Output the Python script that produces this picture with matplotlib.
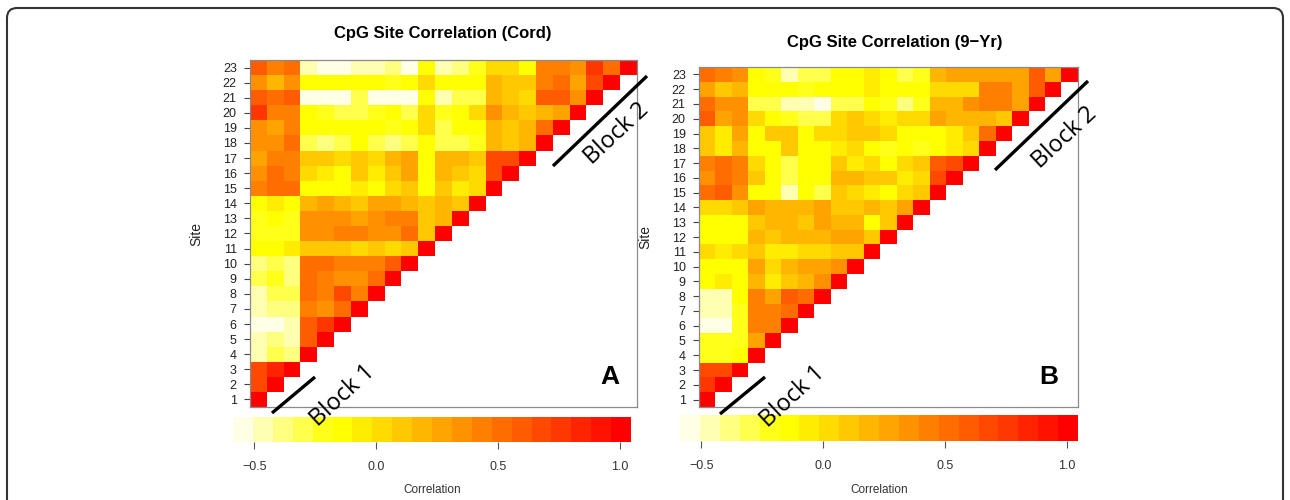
import numpy as np
import matplotlib
matplotlib.use("Agg")
import matplotlib.pyplot as plt
from matplotlib.colors import ListedColormap, BoundaryNorm, hsv_to_rgb
from matplotlib.patches import FancyBboxPatch
from matplotlib.lines import Line2D
from matplotlib.transforms import IdentityTransform
from matplotlib.cm import ScalarMappable

# ---------------- data ----------------
sites = list(range(1, 24))
cbar_ticks = [-0.5, 0.0, 0.5, 1.0]
cbar_ticklabels = ["\u22120.5", "0.0", "0.5", "1.0"]
cbar_range = (-0.587, 1.045)

# lower-triangle correlation rows (site i vs sites 1..i), Cord
cord_rows = [
    [1.00],
    [0.68, 1.00],
    [0.68, 0.84, 1.00],
    [-0.47, -0.30, -0.38, 1.00],
    [-0.47, -0.38, -0.47, 0.60, 1.00],
    [-0.55, -0.55, -0.47, 0.60, 0.76, 1.00],
    [-0.47, -0.38, -0.38, 0.43, 0.35, 0.52, 1.00],
    [-0.47, -0.30, -0.30, 0.52, 0.43, 0.68, 0.43, 1.00],
    [-0.30, -0.22, -0.38, 0.52, 0.43, 0.35, 0.35, 0.52, 1.00],
    [-0.38, -0.30, -0.38, 0.52, 0.52, 0.43, 0.43, 0.43, 0.60, 1.00],
    [-0.14, -0.14, -0.06, 0.11, 0.11, 0.11, 0.03, 0.11, 0.03, 0.11, 1.00],
    [-0.22, -0.22, -0.22, 0.35, 0.35, 0.43, 0.43, 0.35, 0.35, 0.52, 0.11, 1.00],
    [-0.22, -0.14, -0.22, 0.35, 0.35, 0.35, 0.27, 0.35, 0.43, 0.43, 0.11, 0.19, 1.00],
    [-0.14, -0.06, -0.14, 0.19, 0.27, 0.19, 0.11, 0.27, 0.27, 0.19, 0.11, 0.19, 0.11, 1.00],
    [0.43, 0.52, 0.52, -0.14, -0.14, -0.14, -0.06, -0.14, 0.03, 0.11, -0.14, 0.11, -0.06, 0.03, 1.00],
    [0.35, 0.52, 0.43, 0.03, -0.06, -0.14, 0.11, -0.06, 0.11, 0.27, -0.14, 0.19, 0.11, 0.03, 0.68, 1.00],
    [0.27, 0.43, 0.43, 0.11, 0.11, 0.03, 0.11, 0.03, 0.19, 0.27, -0.14, 0.19, 0.19, 0.11, 0.68, 0.68, 1.00],
    [0.35, 0.35, 0.52, -0.30, -0.38, -0.30, -0.14, -0.30, -0.38, -0.30, -0.14, -0.30, -0.30, -0.22, 0.19, 0.11, 0.19, 1.00],
    [0.35, 0.27, 0.43, -0.14, -0.14, -0.14, -0.14, -0.14, -0.22, -0.14, 0.03, -0.30, -0.14, -0.14, 0.19, 0.11, 0.19, 0.52, 1.00],
    [0.76, 0.43, 0.43, -0.14, -0.22, -0.30, -0.30, -0.22, -0.14, -0.30, 0.03, -0.22, -0.14, 0.03, 0.35, 0.19, 0.11, 0.19, 0.27, 1.00],
    [0.60, 0.52, 0.60, -0.55, -0.55, -0.55, -0.30, -0.55, -0.55, -0.55, -0.14, -0.47, -0.30, -0.30, 0.19, 0.11, 0.03, 0.60, 0.60, 0.35, 1.00],
    [0.35, 0.19, 0.35, -0.14, -0.14, -0.14, -0.14, -0.14, -0.22, -0.14, 0.03, -0.14, -0.14, -0.14, 0.19, 0.11, 0.11, 0.43, 0.52, 0.27, 0.68, 1.00],
    [0.60, 0.43, 0.52, -0.47, -0.55, -0.55, -0.47, -0.47, -0.38, -0.55, -0.14, -0.47, -0.38, -0.22, 0.03, 0.03, -0.14, 0.43, 0.43, 0.35, 0.76, 0.52, 1.00],
]

# 9-year
yr9_rows = [
    [1.00],
    [0.76, 1.00],
    [0.68, 0.68, 1.00],
    [-0.22, -0.22, -0.14, 1.00],
    [-0.22, -0.22, -0.22, 0.27, 1.00],
    [-0.55, -0.55, -0.22, 0.43, 0.43, 1.00],
    [-0.47, -0.47, -0.22, 0.43, 0.43, 0.52, 1.00],
    [-0.47, -0.47, -0.14, 0.43, 0.27, 0.60, 0.52, 1.00],
    [-0.14, -0.06, -0.14, 0.19, -0.06, 0.11, 0.19, 0.35, 1.00],
    [-0.14, -0.14, -0.14, 0.27, 0.03, 0.19, 0.27, 0.27, 0.35, 1.00],
    [0.03, -0.06, 0.03, 0.11, -0.06, -0.06, 0.03, 0.03, 0.11, 0.11, 1.00],
    [-0.14, -0.14, -0.14, 0.19, 0.11, 0.19, 0.19, 0.19, 0.27, 0.27, 0.11, 1.00],
    [-0.14, -0.14, -0.14, 0.11, 0.19, 0.19, 0.11, 0.27, 0.19, 0.19, -0.14, 0.11, 1.00],
    [0.03, 0.03, 0.11, 0.27, 0.19, 0.19, 0.19, 0.27, 0.11, 0.11, 0.19, 0.11, 0.27, 1.00],
    [0.52, 0.60, 0.35, -0.14, -0.14, -0.47, -0.14, -0.30, 0.11, 0.03, -0.06, -0.14, 0.03, 0.11, 1.00],
    [0.35, 0.52, 0.43, 0.11, -0.14, -0.30, -0.14, -0.14, 0.19, 0.19, 0.11, 0.11, -0.06, 0.03, 0.68, 1.00],
    [0.43, 0.52, 0.43, 0.03, -0.14, -0.30, -0.14, -0.14, 0.11, -0.06, 0.03, -0.14, 0.03, 0.11, 0.60, 0.68, 1.00],
    [0.11, -0.06, 0.19, -0.14, -0.14, 0.11, -0.14, -0.14, -0.06, 0.03, -0.14, -0.22, -0.14, -0.22, -0.14, -0.06, 0.03, 1.00],
    [0.11, -0.06, 0.27, -0.14, 0.11, 0.11, -0.14, 0.03, 0.03, 0.11, 0.11, 0.03, -0.14, -0.14, -0.14, -0.06, 0.11, 0.52, 1.00],
    [0.60, 0.27, 0.35, 0.03, -0.14, -0.22, -0.30, -0.30, 0.03, 0.11, 0.03, -0.06, 0.03, 0.03, 0.27, 0.19, 0.19, 0.19, 0.11, 1.00],
    [0.52, 0.35, 0.35, -0.30, -0.30, -0.47, -0.47, -0.55, -0.30, -0.30, -0.14, -0.22, -0.38, -0.22, 0.19, 0.19, 0.35, 0.43, 0.43, 0.27, 1.00],
    [0.27, 0.11, 0.19, -0.14, -0.14, -0.14, -0.22, -0.14, -0.14, -0.14, -0.06, -0.14, -0.14, -0.14, 0.03, 0.03, 0.03, 0.43, 0.43, 0.27, 0.60, 1.00],
    [0.52, 0.43, 0.35, -0.14, -0.22, -0.47, -0.30, -0.30, -0.14, -0.14, -0.06, -0.14, -0.30, -0.22, 0.19, 0.27, 0.27, 0.27, 0.27, 0.27, 0.60, 0.27, 1.00],
]

titles = ["CpG Site Correlation (Cord)", "CpG Site Correlation (9\u2212Yr)"]
panel_letters = ["A", "B"]
block_labels = ["Block 1", "Block 2"]

# ---------------- style ----------------
plt.rcParams['font.family'] = ['Liberation Sans', 'DejaVu Sans']
W, H = 1290, 500
fig = plt.figure(figsize=(W / 100, H / 100), dpi=100)

def fx(px):
    return px / W

def fy(py):
    return 1 - py / H

def rect(x0, y0, x1, y1):
    return [fx(x0), fy(y1), fx(x1) - fx(x0), fy(y0) - fy(y1)]

# R heat.colors(20), reversed
n = 20
j = n // 4
i = n - j
cols = [hsv_to_rgb((h, 1.0, 1.0)) for h in np.linspace(0, 1 / 6, i)]
cols += [hsv_to_rgb((1 / 6, s, 1.0)) for s in np.linspace(1 - 1 / (2 * j), 1 / (2 * j), j)]
cols = cols[::-1]
cmap = ListedColormap(cols)
bounds = np.linspace(cbar_range[0], cbar_range[1], n + 1)
norm = BoundaryNorm(bounds, n)

panels = [
    dict(rows=cord_rows, ax=(250, 60, 637, 407), cax=(233, 417, 631, 442),
         title_xy=(443, 33), letter_xy=(610, 377), site_x=203,
         lines=[((272, 413), (315, 377)), ((553, 166), (647, 76))],
         texts=[(343, 396), (617, 134)]),
    dict(rows=yr9_rows, ax=(699, 67, 1078, 407), cax=(680, 415, 1078, 441),
         title_xy=(895, 43), letter_xy=(1049, 377), site_x=652,
         lines=[((720, 414), (765, 377)), ((995, 170), (1088, 81))],
         texts=[(793, 397), (1065, 138)]),
]

for k, p in enumerate(panels):
    nS = len(sites)
    M = np.full((nS, nS), np.nan)
    for r, row in enumerate(p["rows"]):
        M[r, :len(row)] = row
    ax = fig.add_axes(rect(*p["ax"]))
    ax.imshow(np.ma.masked_invalid(M), origin='lower', cmap=cmap, norm=norm,
              extent=(0.5, nS + 0.5, 0.5, nS + 0.5), aspect='auto',
              interpolation='nearest')
    ax.set_xlim(0.5, nS + 0.5)
    ax.set_ylim(0.5, nS + 0.5)
    ax.set_xticks([])
    ax.set_yticks(sites)
    ax.set_yticklabels([str(s) for s in sites], fontsize=9, color='#222222')
    ax.tick_params(axis='y', length=4.5, width=0.8, color='#444444', pad=5)
    for sp in ax.spines.values():
        sp.set_color('#8a8a8a')
        sp.set_linewidth(0.9)
    ax.set_ylabel("Site", fontsize=10, color='#222222')
    x0 = p["ax"][0]
    ax.yaxis.set_label_coords((p["site_x"] - x0) / (p["ax"][2] - x0), 0.5)

    # colorbar
    cax = fig.add_axes(rect(*p["cax"]))
    cb = fig.colorbar(ScalarMappable(norm=norm, cmap=cmap), cax=cax,
                      orientation='horizontal', ticks=cbar_ticks)
    cb.outline.set_visible(False)
    cb.ax.minorticks_off()
    cb.ax.set_xticks(cbar_ticks)
    cb.ax.set_xticklabels(cbar_ticklabels, fontsize=9, color='#333333')
    cb.ax.tick_params(axis='x', which='major', length=5, width=0.8,
                      color='#555555', pad=9)
    cb.ax.tick_params(axis='x', which='minor', length=0)
    cx = (p["cax"][0] + p["cax"][2]) / 2
    fig.text(fx(cx), fy(490), "Correlation", fontsize=8.5, color='#333333',
             ha='center', va='center')

    # title / letter
    fig.text(fx(p["title_xy"][0]), fy(p["title_xy"][1]), titles[k],
             fontsize=12, fontweight='bold', ha='center', va='center')
    fig.text(fx(p["letter_xy"][0]), fy(p["letter_xy"][1]), panel_letters[k],
             fontsize=19, fontweight='bold', ha='center', va='center')

    # block annotations
    for (a, b), (tx, ty), lab in zip(p["lines"], p["texts"], block_labels):
        fig.add_artist(Line2D([fx(a[0]), fx(b[0])], [fy(a[1]), fy(b[1])],
                              transform=fig.transFigure, color='black',
                              lw=2.4, solid_capstyle='butt'))
        fig.text(fx(tx), fy(ty), lab, fontsize=17, rotation=43,
                 rotation_mode='anchor', ha='center', va='center',
                 family=['Open Sans', 'DejaVu Sans'])

# outer rounded frame
frame = FancyBboxPatch((7, -40), 1276, 532,
                       boxstyle="round,pad=0,rounding_size=10",
                       transform=IdentityTransform(), fill=False,
                       edgecolor='#333333', linewidth=1.5)
fig.add_artist(frame)

fig.savefig("out.png", dpi=100)
